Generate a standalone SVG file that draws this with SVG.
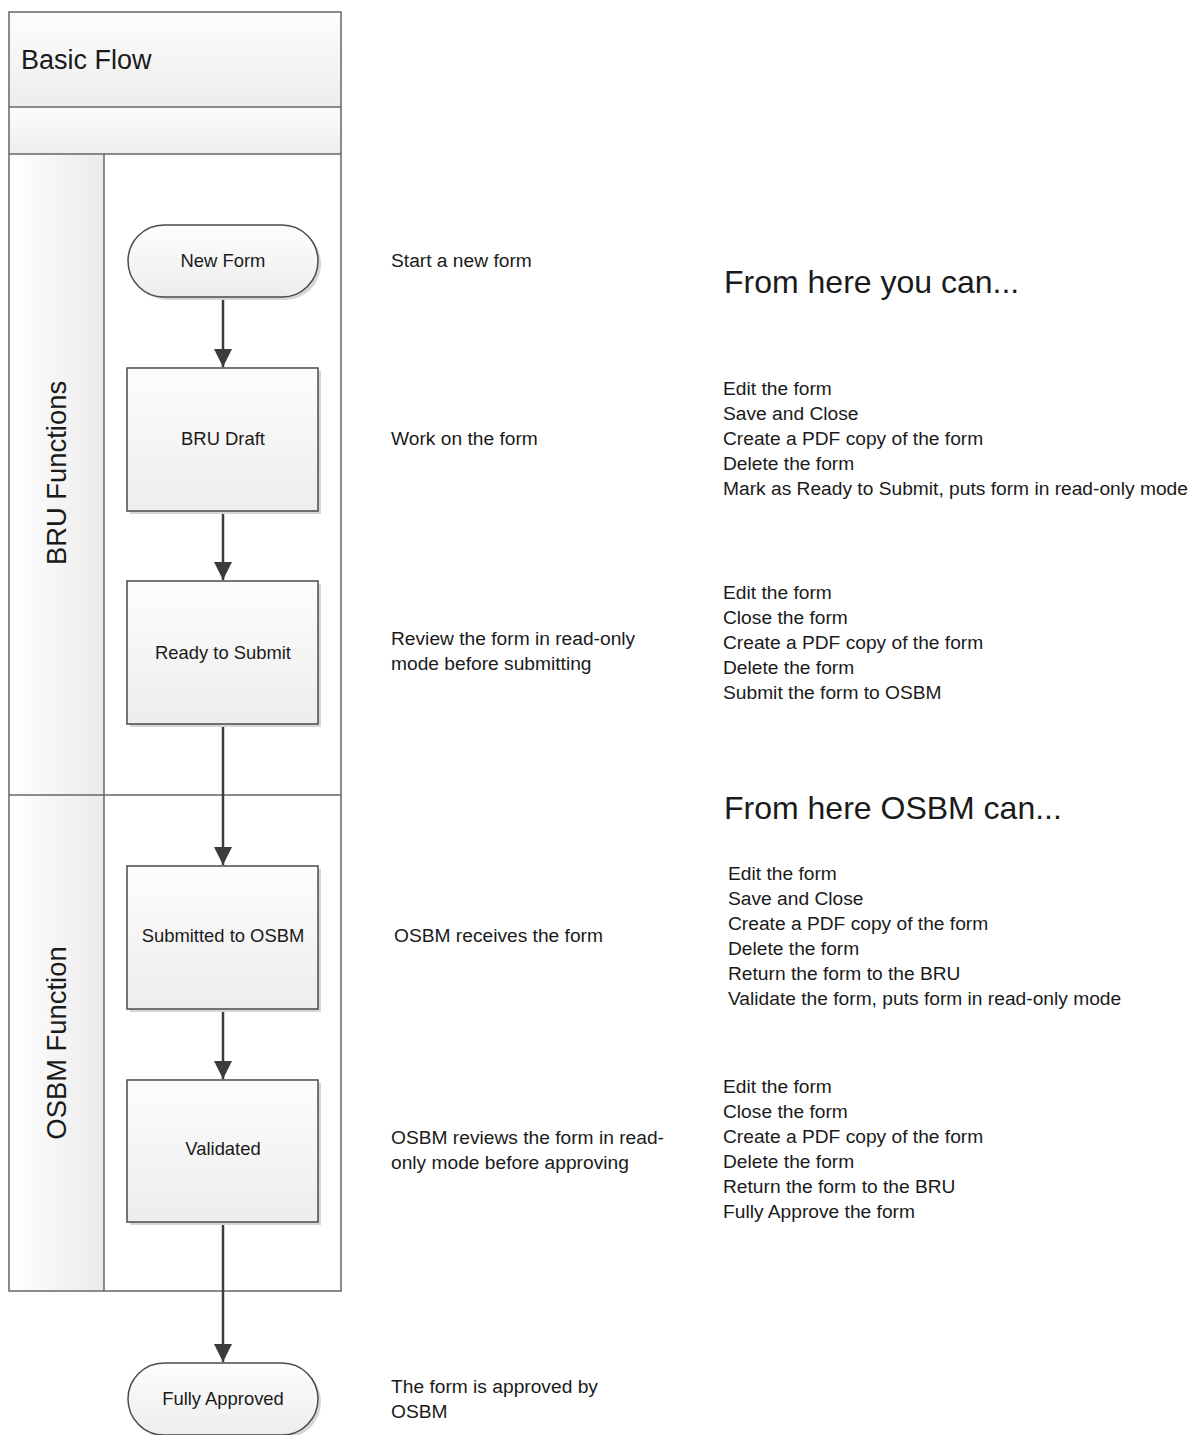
<svg xmlns="http://www.w3.org/2000/svg" width="1194" height="1435" viewBox="0 0 1194 1435">
<defs>
<linearGradient id="gv" x1="0" y1="0" x2="0" y2="1"><stop offset="0" stop-color="#fdfdfd"/><stop offset="1" stop-color="#ededed"/></linearGradient>
<linearGradient id="gh" x1="0" y1="0" x2="1" y2="0"><stop offset="0" stop-color="#ffffff"/><stop offset="1" stop-color="#ebebeb"/></linearGradient>
<marker id="ah" markerUnits="userSpaceOnUse" markerWidth="18" markerHeight="18" refX="18" refY="9" orient="auto"><path d="M0,0 L18,9 L0,18 z" fill="#3c3c3c"/></marker>
<style>
text{font-family:"Liberation Sans",Arial,sans-serif;fill:#1a1a1a}
.frame{fill:none;stroke:#666;stroke-width:1.5}
.node{fill:url(#gv);stroke:#4a4a4a;stroke-width:1.5}
.shadow{fill:#d6d6d6}
.nl{font-size:18.4px;text-anchor:middle}
.t{font-size:19.2px}
.big{font-size:32px}
.lane{font-size:27.4px;text-anchor:middle}
.conn{stroke:#3c3c3c;stroke-width:2.5;fill:none;marker-end:url(#ah)}
</style>
</defs>
<g id="pool">
<rect x="9" y="12" width="332" height="95" fill="url(#gv)"/>
<rect x="9" y="107" width="332" height="47" fill="url(#gv)"/>
<rect x="9" y="154" width="95" height="641" fill="url(#gh)"/>
<rect x="9" y="795" width="95" height="496" fill="url(#gh)"/>
<rect class="frame" x="9" y="12" width="332" height="1279"/>
<line class="frame" x1="9" y1="107" x2="341" y2="107"/>
<line class="frame" x1="9" y1="154" x2="341" y2="154"/>
<line class="frame" x1="104" y1="154" x2="104" y2="1291"/>
<line class="frame" x1="9" y1="795" x2="341" y2="795"/>
<text x="21" y="69" style="font-size:27px">Basic Flow</text>
<text class="lane" transform="translate(66,473) rotate(-90)">BRU Functions</text>
<text class="lane" transform="translate(66,1043) rotate(-90)">OSBM Function</text>
</g>
<g id="connectors">
<line class="conn" x1="223" y1="297" x2="223" y2="367"/>
<line class="conn" x1="223" y1="511" x2="223" y2="580"/>
<line class="conn" x1="223" y1="724" x2="223" y2="865"/>
<line class="conn" x1="223" y1="1009" x2="223" y2="1079"/>
<line class="conn" x1="223" y1="1222" x2="223" y2="1362"/>
</g>
<g id="n-new-form">
<rect class="shadow" x="131" y="228" width="190" height="72" rx="36"/>
<rect class="node" x="128" y="225" width="190" height="72" rx="36"/>
<text class="nl" x="223" y="267">New Form</text>
</g>
<g id="n-bru-draft">
<rect class="shadow" x="130" y="371" width="191" height="143"/>
<rect class="node" x="127" y="368" width="191" height="143"/>
<text class="nl" x="223" y="445">BRU Draft</text>
</g>
<g id="n-ready">
<rect class="shadow" x="130" y="584" width="191" height="143"/>
<rect class="node" x="127" y="581" width="191" height="143"/>
<text class="nl" x="223" y="659">Ready to Submit</text>
</g>
<g id="n-submitted">
<rect class="shadow" x="130" y="869" width="191" height="143"/>
<rect class="node" x="127" y="866" width="191" height="143"/>
<text class="nl" x="223" y="942">Submitted to OSBM</text>
</g>
<g id="n-validated">
<rect class="shadow" x="130" y="1083" width="191" height="142"/>
<rect class="node" x="127" y="1080" width="191" height="142"/>
<text class="nl" x="223" y="1155">Validated</text>
</g>
<g id="n-approved">
<rect class="shadow" x="131" y="1366" width="190" height="72" rx="36"/>
<rect class="node" x="128" y="1363" width="190" height="72" rx="36"/>
<text class="nl" x="223" y="1405">Fully Approved</text>
</g>
<g id="notes">
<text class="t" x="391" y="267">Start a new form</text>
<text class="t" x="391" y="445">Work on the form</text>
<text class="t" x="391" y="645">Review the form in read-only</text>
<text class="t" x="391" y="670">mode before submitting</text>
<text class="t" x="394" y="942">OSBM receives the form</text>
<text class="t" x="391" y="1144">OSBM reviews the form in read-</text>
<text class="t" x="391" y="1169">only mode before approving</text>
<text class="t" x="391" y="1393">The form is approved by</text>
<text class="t" x="391" y="1418">OSBM</text>
<text class="big" x="724" y="293">From here you can...</text>
<text class="t" x="723" y="395">Edit the form</text>
<text class="t" x="723" y="420">Save and Close</text>
<text class="t" x="723" y="445">Create a PDF copy of the form</text>
<text class="t" x="723" y="470">Delete the form</text>
<text class="t" x="723" y="495">Mark as Ready to Submit, puts form in read-only mode</text>
<text class="t" x="723" y="599">Edit the form</text>
<text class="t" x="723" y="624">Close the form</text>
<text class="t" x="723" y="649">Create a PDF copy of the form</text>
<text class="t" x="723" y="674">Delete the form</text>
<text class="t" x="723" y="699">Submit the form to OSBM</text>
<text class="big" x="724" y="819">From here OSBM can...</text>
<text class="t" x="728" y="880">Edit the form</text>
<text class="t" x="728" y="905">Save and Close</text>
<text class="t" x="728" y="930">Create a PDF copy of the form</text>
<text class="t" x="728" y="955">Delete the form</text>
<text class="t" x="728" y="980">Return the form to the BRU</text>
<text class="t" x="728" y="1005">Validate the form, puts form in read-only mode</text>
<text class="t" x="723" y="1093">Edit the form</text>
<text class="t" x="723" y="1118">Close the form</text>
<text class="t" x="723" y="1143">Create a PDF copy of the form</text>
<text class="t" x="723" y="1168">Delete the form</text>
<text class="t" x="723" y="1193">Return the form to the BRU</text>
<text class="t" x="723" y="1218">Fully Approve the form</text>
</g>
</svg>
